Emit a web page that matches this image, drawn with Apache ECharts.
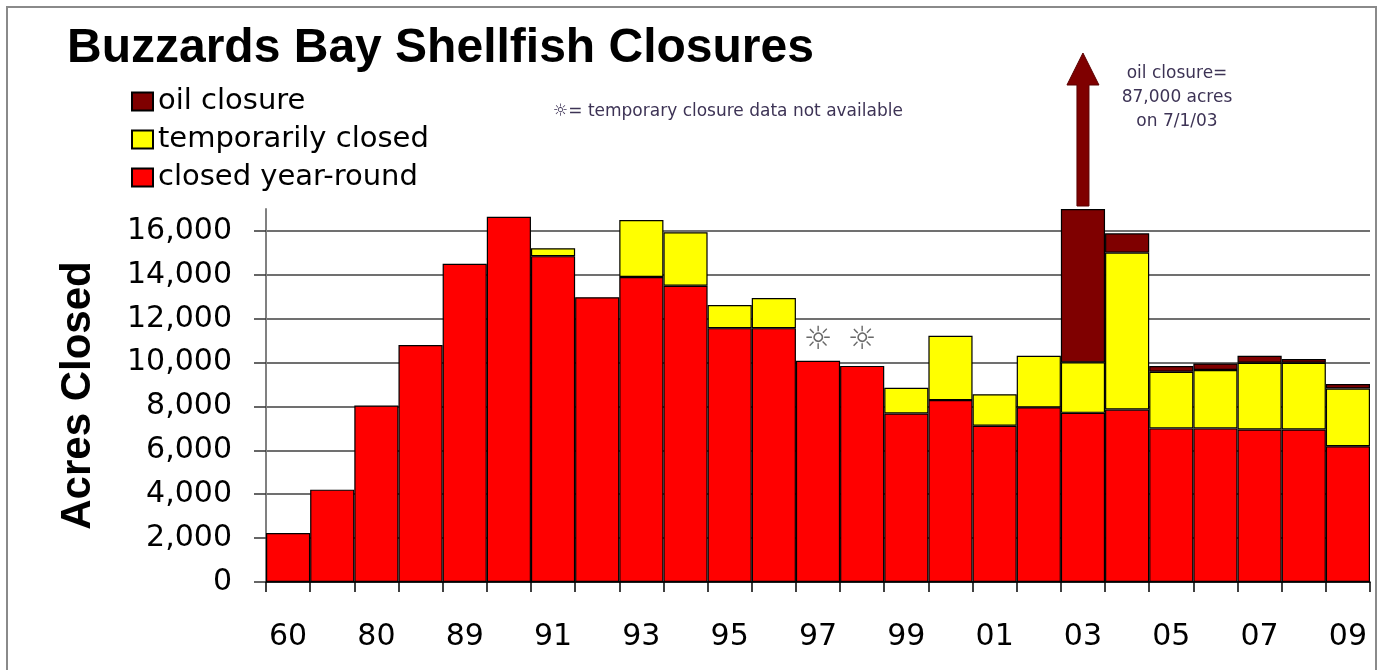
<!DOCTYPE html>
<html>
<head>
<meta charset="utf-8">
<title>Buzzards Bay Shellfish Closures</title>
<script src="https://cdn.jsdelivr.net/npm/echarts@6/dist/echarts.min.js"></script>
<style>
  html, body { margin: 0; padding: 0; background: #fff; }
  #chart { width: 1380px; height: 670px; }
</style>
</head>
<body>
<div id="chart"></div>
<script>
// years (labels of bars 2 and 4 are hidden in the original)
const years = ['60', '70', '80', '85', '89', '90', '91', '92', '93', '94', '95', '96', '97', '98', '99', '00', '01', '02', '03', '04', '05', '06', '07', '08', '09'];
// acres closed year-round
const yearRound = [2230, 4210, 8040, 10800, 14500, 16650, 14850, 12980, 13900, 13500, 11570, 11570, 10080, 9850, 7680, 8290, 7120, 7960, 7710, 7860, 7000, 7000, 6950, 6950, 6190];
// acres temporarily closed
const tempClosed = [null, null, null, null, null, null, 360, null, 2600, 2440, 1050, 1370, null, null, 1170, 2930, 1440, 2350, 2300, 7150, 2580, 2660, 3040, 3040, 2630];
// oil closure acres (03 is capped on the chart, real value 87,000)
const oilClosure = [null, null, null, null, null, null, null, null, null, null, null, null, null, null, null, null, null, null, 6990, 880, 260, 300, 320, 170, 200];
// years with no temporary closure data
const noDataYears = ['97', '98'];
const noDataMarkY = 11000;
const yTicks = [0, 2000, 4000, 6000, 8000, 10000, 12000, 14000, 16000];

const labelFont = 'DejaVu Sans';
const noteColor = '#3d3355';

const chart = echarts.init(document.getElementById('chart'));

const option = {
  backgroundColor: '#fff',
  animation: false,
  title: {
    text: 'Buzzards Bay Shellfish Closures',
    left: 62,
    top: 20,
    textStyle: {
      fontFamily: 'Liberation Sans',
      fontWeight: 'bold',
      fontSize: 48,
      color: '#000'
    }
  },
  legend: {
    data: ['oil closure', 'temporarily closed', 'closed year-round'],
    orient: 'vertical',
    left: 126,
    top: 81,
    itemWidth: 21,
    itemHeight: 18,
    itemGap: 7,
    icon: 'rect',
    textStyle: {
      fontFamily: labelFont,
      fontSize: 29,
      lineHeight: 31,
      color: '#000'
    }
  },
  grid: {
    left: 266,
    right: 10,
    top: 209,
    bottom: 88
  },
  xAxis: {
    type: 'category',
    data: years,
    boundaryGap: true,
    axisLine: {
      lineStyle: { color: '#000', width: 1.5 }
    },
    axisTick: {
      show: true,
      interval: 0,
      length: 10,
      lineStyle: { color: '#000', width: 1.5 }
    },
    axisLabel: {
      interval: 1,
      margin: 40,
      fontFamily: labelFont,
      fontSize: 30,
      color: '#000'
    }
  },
  yAxis: {
    type: 'value',
    min: 0,
    max: 17000,
    interval: 2000,
    name: 'Acres Closed',
    nameLocation: 'middle',
    nameGap: 167,
    nameTextStyle: {
      fontFamily: 'Liberation Sans',
      fontWeight: 'bold',
      fontSize: 42,
      color: '#000'
    },
    axisLine: {
      show: true,
      lineStyle: { color: '#808080', width: 2 }
    },
    axisTick: {
      show: true,
      length: 12,
      customValues: yTicks,
      lineStyle: { color: '#333', width: 1.5 }
    },
    axisLabel: {
      margin: 34,
      customValues: yTicks,
      fontFamily: labelFont,
      fontSize: 30,
      color: '#000',
      formatter: (v) => v >= 17000 ? '' : v.toLocaleString('en-US')
    },
    splitLine: {
      show: true,
      lineStyle: { color: '#404040', width: 1.5 }
    }
  },
  series: [
    {
      name: 'closed year-round',
      type: 'bar',
      stack: 'acres',
      barCategoryGap: 0,
      data: yearRound,
      itemStyle: { color: '#ff0000', borderColor: '#000', borderWidth: 1.2 }
    },
    {
      name: 'temporarily closed',
      type: 'bar',
      stack: 'acres',
      barCategoryGap: 0,
      data: tempClosed,
      itemStyle: { color: '#ffff00', borderColor: '#000', borderWidth: 1.2 }
    },
    {
      name: 'oil closure',
      type: 'bar',
      stack: 'acres',
      barCategoryGap: 0,
      data: oilClosure,
      itemStyle: { color: '#7f0000', borderColor: '#000', borderWidth: 1.2 }
    },
    {
      name: 'no data',
      type: 'scatter',
      symbolSize: 0,
      data: noDataYears.map(y => [y, noDataMarkY]),
      label: {
        show: true,
        position: 'inside',
        formatter: '\u263c',
        fontFamily: labelFont,
        fontSize: 32,
        color: '#444'
      }
    }
  ]
};

chart.setOption(option);

// arrow + notes placed from the chart's own scales
const top03 = chart.convertToPixel({ gridIndex: 0 }, ['03', 17000]);
const ax = top03[0];
const ay = top03[1] - 3;
const tipY = 53;
const headY = 85;

chart.setOption({
  graphic: [
    {
      type: 'rect',
      shape: { x: 7, y: 7, width: 1369, height: 700 },
      style: { fill: 'none', stroke: '#8a8a8a', lineWidth: 2 },
      silent: true
    },
    {
      type: 'polygon',
      shape: {
        points: [
          [ax - 6, ay], [ax - 6, headY], [ax - 16, headY], [ax, tipY],
          [ax + 16, headY], [ax + 6, headY], [ax + 6, ay]
        ]
      },
      style: { fill: '#7f0000', stroke: '#5a0000', lineWidth: 1 }
    },
    {
      type: 'text',
      x: 1177,
      y: 62,
      style: {
        text: 'oil closure=\n87,000 acres\non 7/1/03',
        align: 'center',
        fontFamily: labelFont,
        fontSize: 17,
        lineHeight: 24,
        fill: noteColor
      }
    },
    {
      type: 'text',
      x: 553,
      y: 103,
      style: {
        text: '\u263c= temporary closure data not available',
        fontFamily: labelFont,
        fontSize: 17,
        fill: noteColor
      }
    }
  ]
});
</script>
</body>
</html>
